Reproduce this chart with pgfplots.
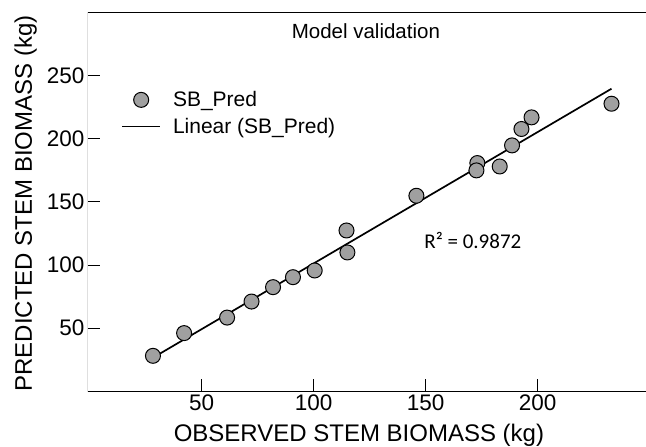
\documentclass[border=0pt]{standalone}
\usepackage{fontspec}
\setmainfont{Liberation Sans}
\newfontfamily\calibri{Carlito}
\usepackage{pgfplots}
\pgfplotsset{compat=1.18}
\definecolor{markgray}{RGB}{160,160,160}
\pgfplotsset{
  mylegmark/.style={legend image code/.code={\draw[mark repeat=2,mark phase=2,##1] plot coordinates {(0bp,0bp) (19bp,0bp) (38bp,0bp)};}},
  mylegline/.style={legend image code/.code={\draw[##1] (0bp,0bp) -- (38bp,0bp);}},
}

\begin{document}
\begin{tikzpicture}
\begin{axis}[
  scale only axis, width=558bp, height=378.7bp,
  xmin=-0.7, xmax=248.4, ymin=0, ymax=300,
  xtick={50,100,150,200}, ytick={50,100,150,200,250},
  tick pos=left, tick align=inside, major tick length=12bp,
  tick style={black, line width=1bp},
  axis line style={draw=none},
  /pgf/number format/assume math mode=true,
  ticklabel style={font=\fontsize{22.5bp}{26bp}\selectfont},
  xlabel={OBSERVED STEM BIOMASS (kg)},
  ylabel={PREDICTED STEM BIOMASS (kg)},
  label style={font=\fontsize{24bp}{28bp}\selectfont},
  xlabel style={at={(rel axis cs:0.4855,-0.1328)}, anchor=base},
  ylabel style={at={(rel axis cs:-0.1004,0.496)}, anchor=base},
  title={Model validation},
  title style={at={(rel axis cs:0.498,0.915)}, anchor=base, font=\fontsize{20.5bp}{24bp}\selectfont},
  legend style={draw=none, fill=none, at={(rel axis cs:0.054,0.804)}, anchor=north west,
    font=\fontsize{21bp}{25bp}\selectfont, row sep=5bp,
    nodes={inner xsep=0bp, inner ysep=2.5bp}},
  legend cell align=left,
]
\addplot[only marks, mark=*, mark size=7.5bp,
  mark options={fill=markgray, draw=black, line width=1bp}, mylegmark]
coordinates {
(28.3,28.1) (42.2,46.1) (61.4,58.4) (72.3,71.1) (81.9,82.5) (90.8,90.4)
(100.5,95.7) (114.7,127.4) (115.1,110.0) (145.9,154.9) (173.1,180.8)
(172.7,175.0) (183.1,178.1) (188.6,194.8) (192.8,207.8) (197.3,217.0)
(233.0,227.8)
};
\addlegendentry{\hspace{12bp}SB\_Pred}
\addplot[black, line width=1.7bp, mylegline]
coordinates {(28.3,26.6) (233,239.7)};
\addlegendentry{\hspace{12bp}Linear (SB\_Pred)}
\node[font=\calibri\fontsize{21bp}{25bp}\selectfont] at (axis cs:171.1,119.7) {R² = 0.9872};
\draw[line width=1bp] (rel axis cs:1,0) -- (rel axis cs:0,0) -- (rel axis cs:0,1) -- (rel axis cs:1,1);
\coordinate (sw) at (rel axis cs:0,0);
\coordinate (ne) at (rel axis cs:1,1);
\end{axis}
\pgfresetboundingbox
\path ([shift={(-88bp,-55.7bp)}]sw) rectangle ([shift={(0bp,12.6bp)}]ne);
\end{tikzpicture}
\end{document}
